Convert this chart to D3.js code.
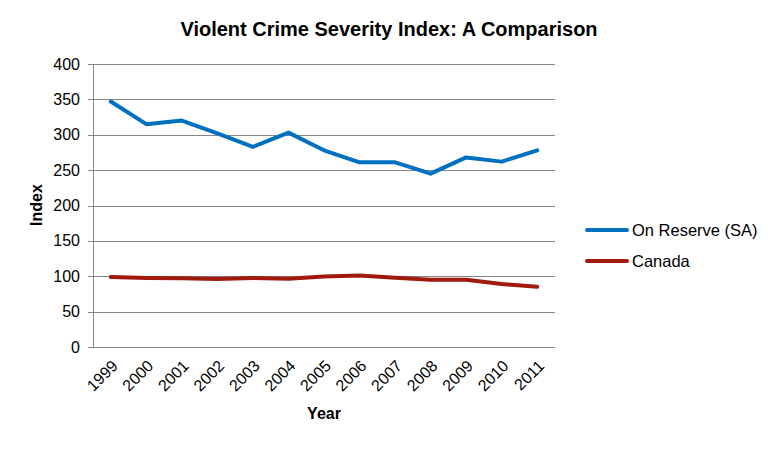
<!DOCTYPE html>
<html>
<head>
<meta charset="utf-8">
<script src="https://cdn.jsdelivr.net/npm/d3@7/dist/d3.min.js"></script>
<style>
  body { margin: 0; background: #fff; }
  svg { font-family: "Liberation Sans", Arial, sans-serif; }
</style>
</head>
<body>
<div id="chart"></div>
<script>
// values
const years = ["1999", "2000", "2001", "2002", "2003", "2004", "2005", "2006", "2007", "2008", "2009", "2010", "2011"];
const onReserve = [347, 315, 320, 302, 283, 303, 278, 261, 261, 245, 268, 262, 278];
const canada = [99, 97.5, 97, 96, 97.5, 96.5, 99.5, 101, 98, 95, 95, 89, 85];
const yTicks = [0, 50, 100, 150, 200, 250, 300, 350, 400];

const seriesList = [
    { name: "On Reserve (SA)", values: onReserve, color: "#0070c0" },
    { name: "Canada", values: canada, color: "#a01a10" }
];

const width = 780, height = 449;
const plot = { left: 93, right: 555, top: 64, bottom: 347 };

const svg = d3.select("#chart")
    .append("svg")
    .attr("width", width)
    .attr("height", height);

const x = d3.scaleBand()
    .domain(years)
    .range([plot.left, plot.right]);

const y = d3.scaleLinear()
    .domain([0, 400])
    .range([plot.bottom, plot.top]);

// gridlines (with small outward ticks)
svg.append("g")
    .selectAll("line")
    .data(yTicks)
    .join("line")
    .attr("x1", plot.left - 5)
    .attr("x2", plot.right)
    .attr("y1", d => Math.round(y(d)) + 0.5)
    .attr("y2", d => Math.round(y(d)) + 0.5)
    .attr("stroke", "#868686")
    .attr("stroke-width", 1);

// left axis line
svg.append("line")
    .attr("x1", plot.left + 0.5)
    .attr("x2", plot.left + 0.5)
    .attr("y1", plot.top)
    .attr("y2", plot.bottom)
    .attr("stroke", "#868686");

// y tick labels
svg.append("g")
    .selectAll("text")
    .data(yTicks)
    .join("text")
    .attr("x", plot.left - 13)
    .attr("y", d => y(d))
    .attr("dy", "0.35em")
    .attr("text-anchor", "end")
    .attr("font-size", 16)
    .attr("fill", "#000")
    .text(d => d);

// x tick labels, rotated
svg.append("g")
    .selectAll("text")
    .data(years)
    .join("text")
    .attr("transform", d => {
        const cx = x(d) + x.bandwidth() / 2 + 4;
        return `translate(${cx},363) rotate(-45)`;
    })
    .attr("text-anchor", "end")
    .attr("dy", "0.35em")
    .attr("font-size", 16)
    .attr("fill", "#000")
    .text(d => d);

// lines
const line = d3.line()
    .x((d, i) => x(years[i]) + x.bandwidth() / 2)
    .y(d => y(d));

svg.append("g")
    .selectAll("path")
    .data(seriesList)
    .join("path")
    .attr("d", s => line(s.values))
    .attr("fill", "none")
    .attr("stroke", s => s.color)
    .attr("stroke-width", 4)
    .attr("stroke-linejoin", "round")
    .attr("stroke-linecap", "round");

// title
svg.append("text")
    .attr("x", 389)
    .attr("y", 36)
    .attr("text-anchor", "middle")
    .attr("font-size", 20)
    .attr("font-weight", "bold")
    .text("Violent Crime Severity Index: A Comparison");

// axis titles
svg.append("text")
    .attr("transform", "translate(42,205) rotate(-90)")
    .attr("text-anchor", "middle")
    .attr("font-size", 16)
    .attr("font-weight", "bold")
    .text("Index");

svg.append("text")
    .attr("x", 324)
    .attr("y", 419)
    .attr("text-anchor", "middle")
    .attr("font-size", 16)
    .attr("font-weight", "bold")
    .text("Year");

// legend
const legend = svg.append("g")
    .selectAll("g")
    .data(seriesList)
    .join("g")
    .attr("transform", (d, i) => `translate(587,${230 + i * 31})`);

legend.append("line")
    .attr("x1", 0)
    .attr("x2", 40)
    .attr("stroke", d => d.color)
    .attr("stroke-width", 4)
    .attr("stroke-linecap", "round");

legend.append("text")
    .attr("x", 45)
    .attr("dy", "0.35em")
    .attr("font-size", 16.5)
    .text(d => d.name);
</script>
</body>
</html>
